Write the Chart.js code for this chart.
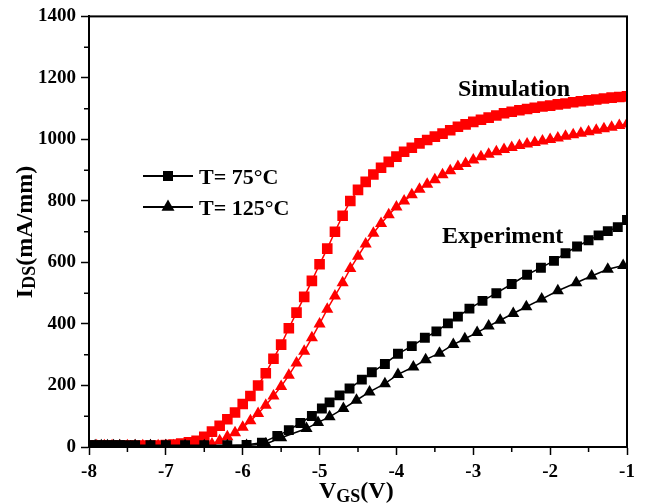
<!DOCTYPE html>
<html>
<head>
<meta charset="utf-8">
<script src="https://cdn.jsdelivr.net/npm/chart.js@4.4.0/dist/chart.umd.min.js"></script>
<style>
  html, body { margin: 0; padding: 0; background: #fff; }
</style>
</head>
<body>
<canvas id="c" width="647" height="504"></canvas>
<script>
// simulation sweep, V_GS (V)
const simVgs = [-8.0, -7.9, -7.8, -7.7, -7.6, -7.5, -7.4, -7.3, -7.2, -7.1,
  -7.0, -6.9, -6.8, -6.7, -6.6, -6.5, -6.4, -6.3, -6.2, -6.1,
  -6.0, -5.9, -5.8, -5.7, -5.6, -5.5, -5.4, -5.3, -5.2, -5.1,
  -5.0, -4.9, -4.8, -4.7, -4.6, -4.5, -4.4, -4.3, -4.2, -4.1,
  -4.0, -3.9, -3.8, -3.7, -3.6, -3.5, -3.4, -3.3, -3.2, -3.1,
  -3.0, -2.9, -2.8, -2.7, -2.6, -2.5, -2.4, -2.3, -2.2, -2.1,
  -2.0, -1.9, -1.8, -1.7, -1.6, -1.5, -1.4, -1.3, -1.2, -1.1, -1.0];
// I_DS (mA/mm)
const sim75 = [5, 5, 5, 5, 5, 5, 5, 5, 5, 5,
  6, 8, 11, 15, 20, 33, 50, 69, 90, 112,
  140, 166, 200, 240, 287, 333, 386, 437, 488, 540,
  594, 645, 700, 752, 800, 836, 862, 886, 908, 927,
  944, 960, 973, 987, 998, 1009, 1019, 1030, 1041, 1049,
  1057, 1064, 1071, 1078, 1085, 1090, 1095, 1099, 1103, 1107,
  1110, 1114, 1117, 1121, 1124, 1127, 1130, 1133, 1136, 1138, 1140];
const sim125 = [4, 4, 4, 4, 4, 4, 4, 4, 4, 4,
  4, 4, 4, 4, 5, 6, 10, 20, 33, 46,
  64, 85, 109, 136, 166, 197, 233, 273, 311, 355,
  400, 448, 491, 534, 580, 620, 660, 695, 727, 755,
  780, 800, 820, 838, 854, 869, 885, 898, 912, 922,
  933, 944, 952, 960, 967, 974, 980, 985, 990, 995,
  1000, 1005, 1010, 1015, 1020, 1025, 1030, 1035, 1040, 1045, 1050];

// measurement
const exp75Vgs = [-8.0, -7.92, -7.84, -7.76, -7.68, -7.6, -7.52, -7.4, -7.2, -7.0,
  -6.75, -6.5, -6.2, -5.95, -5.75, -5.55, -5.4, -5.25, -5.1, -4.97,
  -4.87, -4.74, -4.61, -4.45, -4.32, -4.15, -3.98, -3.8, -3.63, -3.48,
  -3.33, -3.2, -3.05, -2.88, -2.7, -2.5, -2.3, -2.12, -1.95, -1.8,
  -1.65, -1.5, -1.37, -1.25, -1.12, -1.0];
const exp75 = [6, 6, 6, 6, 6, 6, 6, 6, 6, 6,
  6, 6, 6, 7, 14, 36, 55, 78, 101, 125,
  145, 168, 190, 219, 243, 270, 303, 328, 355, 376,
  402, 424, 450, 475, 500, 530, 560, 583, 605, 630,
  652, 672, 688, 702, 715, 738];
const exp125Vgs = [-8.0, -7.92, -7.84, -7.76, -7.68, -7.6, -7.4, -7.2, -7.0, -6.75,
  -6.5, -6.2, -5.95, -5.7, -5.5, -5.17, -5.02, -4.87, -4.69, -4.52,
  -4.35, -4.15, -3.98, -3.78, -3.62, -3.44, -3.26, -3.11, -2.95, -2.8,
  -2.65, -2.48, -2.31, -2.11, -1.9, -1.66, -1.46, -1.25, -1.05];
const exp125 = [4, 4, 4, 4, 4, 4, 4, 4, 4, 4,
  4, 4, 5, 10, 30, 60, 80, 98, 125, 152,
  179, 206, 236, 260, 284, 305, 333, 352, 372, 393,
  412, 434, 456, 481, 508, 534, 556, 578, 590];

const xMinor = [-7.5, -6.5, -5.5, -4.5, -3.5, -2.5, -1.5];
const yMinor = [100, 300, 500, 700, 900, 1100, 1300];

const serif = '"Liberation Serif", "Times New Roman", serif';

function pts(xs, ys) {
  return xs.map((x, i) => ({ x: x, y: ys[i] }));
}

function square(ctx, x, y, s) {
  ctx.fillRect(x - s / 2, y - s / 2, s, s);
}
function triangle(ctx, x, y, r) {
  ctx.beginPath();
  ctx.moveTo(x, y - r);
  ctx.lineTo(x + r * 0.866, y + r * 0.5);
  ctx.lineTo(x - r * 0.866, y + r * 0.5);
  ctx.closePath();
  ctx.fill();
}

const extras = {
  id: "extras",
  afterDraw(chart) {
    const ctx = chart.ctx;
    const a = chart.chartArea;
    const xs = chart.scales.x, ys = chart.scales.y;
    ctx.save();
    ctx.strokeStyle = "#000";
    ctx.lineWidth = 2;
    ctx.strokeRect(a.left, a.top, a.right - a.left, a.bottom - a.top);

    // minor ticks
    ctx.lineWidth = 1.5;
    ctx.beginPath();
    xMinor.forEach(v => {
      const px = xs.getPixelForValue(v);
      ctx.moveTo(px, a.bottom);
      ctx.lineTo(px, a.bottom + 5);
    });
    yMinor.forEach(v => {
      const py = ys.getPixelForValue(v);
      ctx.moveTo(a.left, py);
      ctx.lineTo(a.left - 5, py);
    });
    ctx.stroke();

    ctx.fillStyle = "#000";
    ctx.textBaseline = "alphabetic";

    // annotations
    ctx.font = "bold 24px " + serif;
    ctx.textAlign = "left";
    ctx.fillText("Simulation", 458, 96);
    ctx.fillText("Experiment", 442, 243);

    // legend
    ctx.lineWidth = 2;
    ctx.beginPath();
    ctx.moveTo(143, 176); ctx.lineTo(193, 176);
    ctx.moveTo(143, 207); ctx.lineTo(193, 207);
    ctx.stroke();
    square(ctx, 168, 176, 10);
    triangle(ctx, 168, 207, 7.5);
    ctx.font = "bold 22px " + serif;
    ctx.fillText("T= 75°C", 199, 184);
    ctx.fillText("T= 125°C", 199, 215);

    // x title V_GS(V)
    let x = 319;
    ctx.font = "bold 24px " + serif;
    ctx.fillText("V", x, 498);
    x += ctx.measureText("V").width;
    ctx.font = "bold 18px " + serif;
    ctx.fillText("GS", x, 502);
    x += ctx.measureText("GS").width;
    ctx.font = "bold 24px " + serif;
    ctx.fillText("(V)", x, 498);

    // y title I_DS(mA/mm)
    ctx.translate(32, 232);
    ctx.rotate(-Math.PI / 2);
    ctx.font = "bold 24px " + serif;
    const w1 = ctx.measureText("I").width;
    const w3 = ctx.measureText("(mA/mm)").width;
    ctx.font = "bold 18px " + serif;
    const w2 = ctx.measureText("DS").width;
    let t = -(w1 + w2 + w3) / 2;
    ctx.font = "bold 24px " + serif;
    ctx.fillText("I", t, 0);
    t += w1;
    ctx.font = "bold 18px " + serif;
    ctx.fillText("DS", t, 3);
    t += w2;
    ctx.font = "bold 24px " + serif;
    ctx.fillText("(mA/mm)", t, 0);
    ctx.restore();
  }
};

new Chart(document.getElementById("c"), {
  type: "line",
  data: {
    datasets: [
      { data: pts(exp75Vgs, exp75), borderColor: "#000", backgroundColor: "#000",
        borderWidth: 1.5, pointStyle: "rect", pointRadius: 7, pointBorderWidth: 0 },
      { data: pts(exp125Vgs, exp125), borderColor: "#000", backgroundColor: "#000",
        borderWidth: 1.5, pointStyle: "triangle", pointRadius: 7, pointBorderWidth: 0 },
      { data: pts(simVgs, sim75), borderColor: "#ff0000", backgroundColor: "#ff0000",
        borderWidth: 1.5, pointStyle: "rect", pointRadius: 7.5, pointBorderWidth: 0 },
      { data: pts(simVgs, sim125), borderColor: "#ff0000", backgroundColor: "#ff0000",
        borderWidth: 1.5, pointStyle: "triangle", pointRadius: 7, pointBorderWidth: 0 }
    ]
  },
  options: {
    responsive: false,
    animation: false,
    layout: { padding: { top: 14, right: 20, left: 0, bottom: 0 } },
    plugins: { legend: { display: false }, tooltip: { enabled: false } },
    scales: {
      x: {
        type: "linear", min: -8, max: -1,
        afterFit: s => { s.height = 57; },
        ticks: { stepSize: 1, color: "#000", padding: 6,
          font: { family: serif, size: 19, weight: "bold" } },
        grid: { drawOnChartArea: false, tickLength: 8, tickWidth: 1.5, tickColor: "#000" },
        border: { color: "#000", width: 2 }
      },
      y: {
        min: 0, max: 1400,
        afterFit: s => { s.width = 89; },
        ticks: { stepSize: 200, color: "#000", padding: 5,
          callback: v => String(v),
          font: { family: serif, size: 19, weight: "bold" } },
        grid: { drawOnChartArea: false, tickLength: 8, tickWidth: 1.5, tickColor: "#000" },
        border: { color: "#000", width: 2 }
      }
    }
  },
  plugins: [extras]
});
</script>
</body>
</html>
